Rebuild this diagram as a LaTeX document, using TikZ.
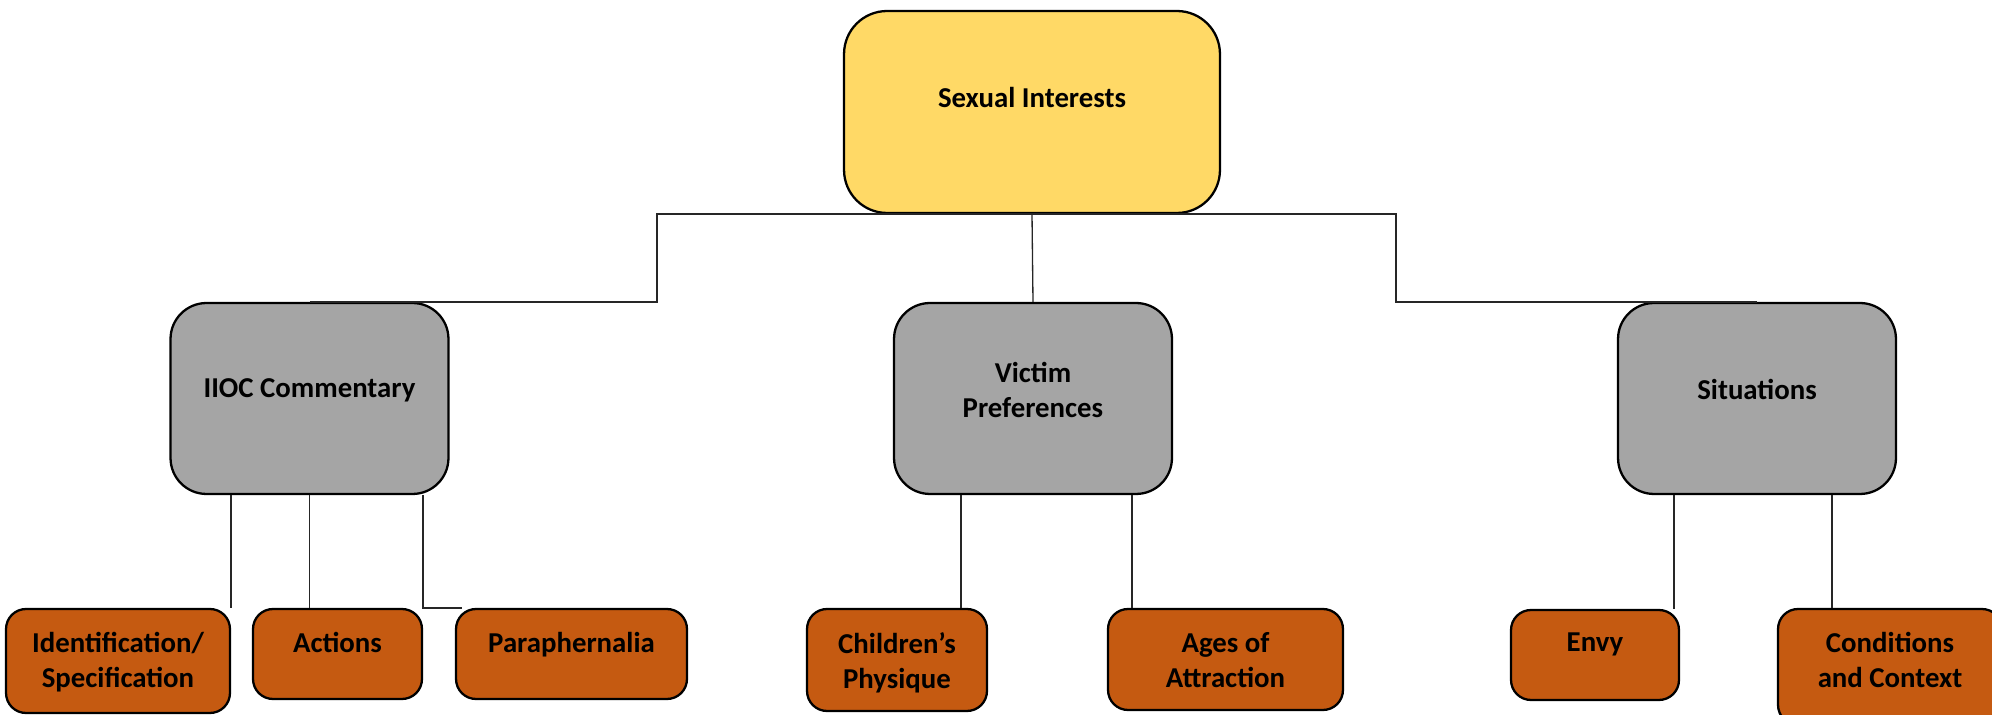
\documentclass[tikz,border=0pt]{standalone}
\usepackage{fontspec}
\setmainfont{Carlito}
\definecolor{topfill}{HTML}{FFD966}
\definecolor{midfill}{HTML}{A5A5A5}
\definecolor{leaffill}{HTML}{C55A11}

\begin{document}
\begin{tikzpicture}[x=0.02cm, y=-0.02cm,
    box/.style={draw=black, line width=1.3pt, inner sep=0pt},
    topbox/.style={box, fill=topfill, rounded corners=0.86cm, minimum width=7.52cm, minimum height=4.04cm},
    midbox/.style={box, fill=midfill, rounded corners=0.72cm, minimum width=5.56cm, minimum height=3.82cm},
    leafbox/.style={box, fill=leaffill, rounded corners=0.4cm},
    txt/.style={font=\fontsize{16.4}{20}\selectfont\bfseries, align=center, inner sep=0pt},
    head text/.style={label={[txt, anchor=center, yshift=-17.6mm]north:#1}},
    leaf text/.style={label={[txt, anchor=north, yshift=-4.8mm]north:#1}},
    link/.style={draw=black!85, line width=0.75pt}]
    \useasboundingbox (0,0) rectangle (1992,715);

    \node[topbox, head text={Sexual Interests}] (top) at (1032,112) {};

    \node[midbox, head text={IIOC Commentary}] (iioc) at (309.5,398.5) {};
    \node[midbox, head text={Victim\\Preferences}] (vic) at (1033,398.5) {};
    \node[midbox, head text={Situations}] (sit) at (1757,398.5) {};

    \node[leafbox, minimum width=4.48cm, minimum height=2.08cm, leaf text={Identification/\\Specification}] (idn) at (118,661) {};
    \node[leafbox, minimum width=3.38cm, minimum height=1.8cm, leaf text={Actions}] (act) at (337.5,654) {};
    \node[leafbox, minimum width=4.62cm, minimum height=1.8cm, leaf text={Paraphernalia}] (par) at (571.5,654) {};
    \node[leafbox, minimum width=3.6cm, minimum height=2.04cm, leaf text={Children’s\\Physique}] (chp) at (897,660) {};
    \node[leafbox, minimum width=4.7cm, minimum height=2.02cm, leaf text={Ages of\\Attraction}] (age) at (1225.5,659.5) {};
    \node[leafbox, minimum width=3.36cm, minimum height=1.8cm, leaf text={Envy}] (env) at (1595,655) {};
    \node[leafbox, minimum width=4.48cm, minimum height=2.32cm, leaf text={Conditions\\and Context}] (cnd) at (1890,667) {};

    \coordinate (bendl) at (657,257);
    \coordinate (bendr) at (1396,257);
    \draw[link] (top.south) -| (bendl) |- (iioc.north);
    \draw[link] (top.south) -- (vic.north);
    \draw[link] (top.south) -| (bendr) |- (sit.north);

    \draw[link] (idn.north east |- iioc.south) -- (idn.north east);
    \draw[link] (iioc.south) -- (iioc.south |- act.north);
    \draw[link] (act.north east |- iioc.south) -- (act.north east) -- ([xshift=1.5mm]par.north west);

    \coordinate (cc) at ([xshift=-5.4mm]chp.north east);
    \coordinate (ca) at ([xshift=5mm]age.north west);
    \draw[link] (cc |- vic.south) -- (cc);
    \draw[link] (ca |- vic.south) -- (ca);

    \coordinate (ce) at ([xshift=-1.2mm]env.north east);
    \coordinate (cn) at ([xshift=11mm]cnd.north west);
    \draw[link] (ce |- sit.south) -- (ce);
    \draw[link] (cn |- sit.south) -- (cn);
\end{tikzpicture}
\end{document}
